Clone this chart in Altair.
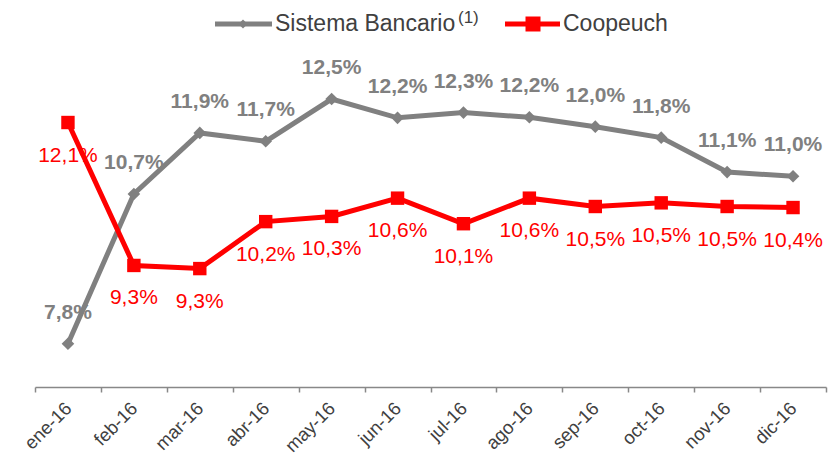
import altair as alt
import pandas as pd

months = ["ene-16", "feb-16", "mar-16", "abr-16", "may-16", "jun-16",
          "jul-16", "ago-16", "sep-16", "oct-16", "nov-16", "dic-16"]
sistema = [7.83, 10.70, 11.87, 11.71, 12.52, 12.16, 12.26, 12.17, 11.99, 11.78, 11.12, 11.04]
coopeuch = [12.07, 9.33, 9.27, 10.17, 10.27, 10.62, 10.13, 10.62, 10.46, 10.53, 10.46, 10.44]
series = ["Sistema Bancario", "Coopeuch"]
colors = ["#808080", "#ff0000"]
FONT = "Liberation Sans"


def fmt(v):
    return f"{v:.1f}".replace(".", ",") + "%"


rows = []
for name, vals in zip(series, [sistema, coopeuch]):
    for m, v in zip(months, vals):
        rows.append({"month": m, "serie": name, "value": v, "label": fmt(v)})
df = pd.DataFrame(rows)

x = alt.X("month:N", sort=months,
          scale=alt.Scale(type="band", paddingInner=0, paddingOuter=0),
          axis=alt.Axis(title=None, labelAngle=-45, labelAlign="right",
                        labelBaseline="middle", labelPadding=13, tickSize=5,
                        tickBand="extent", domainColor="#888888",
                        tickColor="#888888", domainWidth=1.5, tickWidth=1.5,
                        labelColor="#404040", labelFontSize=18.5,
                        labelFont=FONT, grid=False))
y = alt.Y("value:Q", scale=alt.Scale(domain=[7, 13], nice=False, zero=False),
          axis=None)
color = alt.Color("serie:N", scale=alt.Scale(domain=series, range=colors),
                  legend=None)

base = alt.Chart(df).encode(x=x, y=y, color=color)

gray = base.transform_filter(alt.datum.serie == series[0])
red = base.transform_filter(alt.datum.serie == series[1])

gray_line = gray.mark_line(strokeWidth=5)
gray_pts = gray.mark_point(shape="diamond", size=160, filled=True, opacity=1)
gray_txt = gray.mark_text(dy=-31, fontSize=21, fontWeight="bold", font=FONT,
                          baseline="middle").encode(text="label:N")

red_line = red.mark_line(strokeWidth=5)
red_pts = red.mark_point(shape="square", size=180, filled=True, opacity=1)
red_txt = red.mark_text(dy=33, fontSize=21, font=FONT,
                        baseline="middle").encode(text="label:N")

# Legend (drawn manually)
one = pd.DataFrame({"k": [0]})
leg = alt.Chart(one)
lg_line1 = leg.mark_rule(color=colors[0], strokeWidth=5).encode(
    x=alt.value(180), x2=alt.value(237), y=alt.value(-50))
lg_pt1 = leg.mark_point(shape="diamond", size=80, filled=True, opacity=1,
                        color=colors[0]).encode(x=alt.value(208), y=alt.value(-50))
lg_txt1 = leg.mark_text(text=series[0], align="left", baseline="middle",
                        fontSize=23, font=FONT, color="#404040").encode(
    x=alt.value(240), y=alt.value(-50))
lg_sup1 = leg.mark_text(text="(1)", align="left", baseline="middle",
                        fontSize=17, font=FONT, color="#404040").encode(
    x=alt.value(423), y=alt.value(-56))
lg_line2 = leg.mark_rule(color=colors[1], strokeWidth=5).encode(
    x=alt.value(470), x2=alt.value(525), y=alt.value(-50))
lg_pt2 = leg.mark_point(shape="square", size=225, filled=True, opacity=1,
                        color=colors[1]).encode(x=alt.value(498), y=alt.value(-50))
lg_txt2 = leg.mark_text(text=series[1], align="left", baseline="middle",
                        fontSize=23, font=FONT, color="#404040").encode(
    x=alt.value(528), y=alt.value(-50))

chart = alt.layer(
    gray_line, gray_pts, red_line, red_pts, gray_txt, red_txt,
    lg_line1, lg_pt1, lg_txt1, lg_sup1, lg_line2, lg_pt2, lg_txt2
).properties(
    width=791, height=313,
    autosize=alt.AutoSizeParams(type="none"),
    padding={"left": 27, "top": 66, "right": 4, "bottom": 68},
).configure(background="white", view=alt.ViewConfig(stroke=None))

chart.save("out.html", embed_options={"renderer": "svg", "actions": False})
